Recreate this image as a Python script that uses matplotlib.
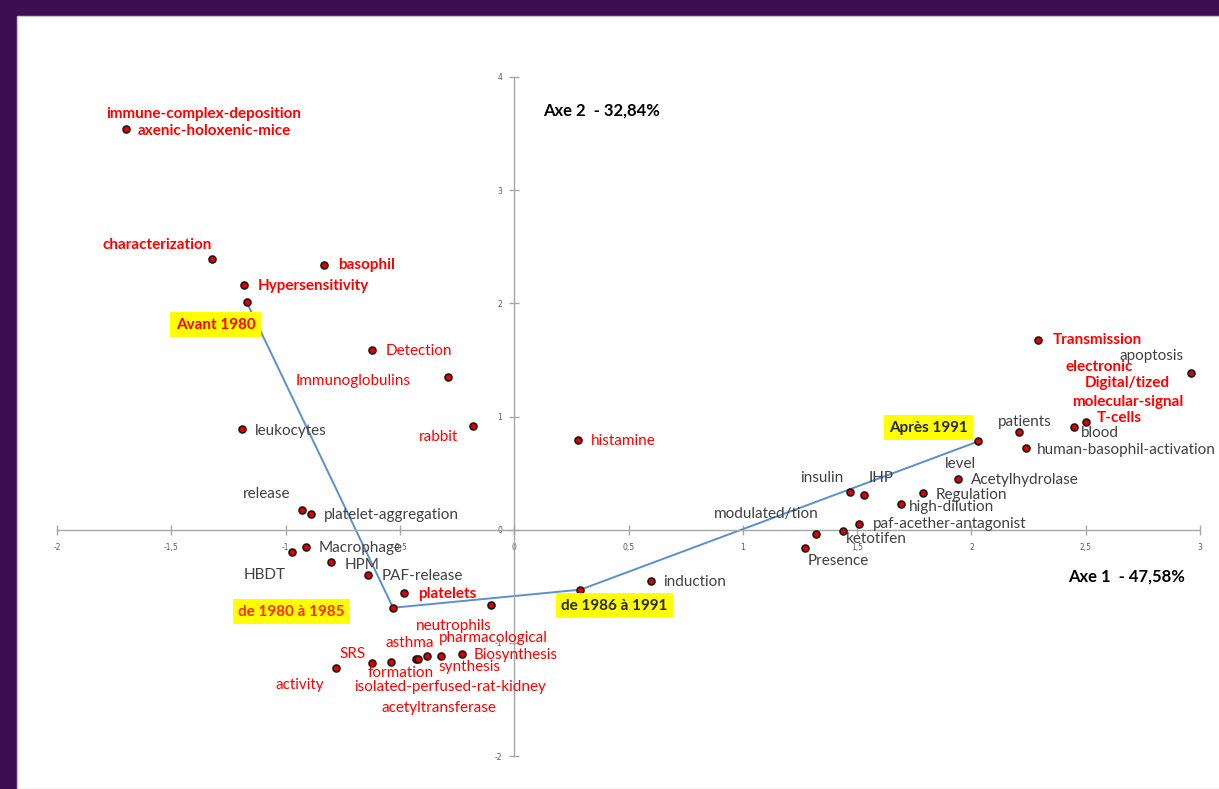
import matplotlib
matplotlib.use("Agg")
import matplotlib.pyplot as plt
from matplotlib.patches import Rectangle

# ---------------- data ----------------
point_x = [-1.70, -1.32, -0.83, -1.18, -0.62, -0.29, -0.18, -1.19, 0.28,
           -0.93, -0.89, -0.91, -0.97, -0.80, -0.64, -0.48, -0.10,
           -0.78, -0.62, -0.54, -0.43, -0.42, -0.38, -0.32, -0.23,
           0.60, 2.29, 2.96, 2.21, 2.45, 2.50, 2.24, 1.94, 1.79, 1.47,
           1.53, 1.69, 1.51, 1.32, 1.44, 1.27]
point_y = [3.54, 2.39, 2.34, 2.16, 1.59, 1.35, 0.92, 0.89, 0.79,
           0.17, 0.14, -0.15, -0.20, -0.29, -0.40, -0.56, -0.67,
           -1.22, -1.18, -1.17, -1.14, -1.14, -1.12, -1.12, -1.10,
           -0.45, 1.68, 1.38, 0.86, 0.91, 0.95, 0.72, 0.45, 0.32, 0.33,
           0.31, 0.23, 0.05, -0.035, -0.01, -0.16]

period_labels = ["Avant 1980", "de 1980 à 1985", "de 1986 à 1991", "Après 1991"]
period_x = [-1.17, -0.53, 0.29, 2.03]
period_y = [2.01, -0.69, -0.53, 0.78]

x_ticks = [-2, -1.5, -1, -0.5, 0, 0.5, 1, 1.5, 2, 2.5, 3]
x_tick_labels = ["-2", "-1,5", "-1", "-0,5", "0", "0,5", "1", "1,5", "2", "2,5", "3"]
y_ticks = [-2, -1, 0, 1, 2, 3, 4]
y_tick_labels = ["-2", "-1", "0", "1", "2", "3", "4"]

axis1_title = "Axe 1  - 47,58%"
axis2_title = "Axe 2  - 32,84%"

# term labels: (text, style)  style: rb = red bold, r = red, g = gray
term_labels = [
    ("immune-complex-deposition", "rb"), ("axenic-holoxenic-mice", "rb"),
    ("characterization", "rb"), ("basophil", "rb"), ("Hypersensitivity", "rb"),
    ("Detection", "r"), ("Immunoglobulins", "r"), ("rabbit", "r"),
    ("leukocytes", "g"), ("histamine", "r"), ("release", "g"),
    ("platelet-aggregation", "g"), ("Macrophage", "g"), ("HBDT", "g"),
    ("HPM", "g"), ("PAF-release", "g"), ("platelets", "rb"),
    ("neutrophils", "r"), ("asthma", "r"), ("pharmacological", "r"),
    ("SRS", "r"), ("Biosynthesis", "r"), ("synthesis", "r"),
    ("formation", "r"), ("activity", "r"), ("isolated-perfused-rat-kidney", "r"),
    ("acetyltransferase", "r"), ("induction", "g"), ("modulated/tion", "g"),
    ("Presence", "g"), ("ketotifen", "g"), ("paf-acether-antagonist", "g"),
    ("insulin", "g"), ("IHP", "g"), ("high-dilution", "g"), ("Regulation", "g"),
    ("level", "g"), ("Acetylhydrolase", "g"), ("patients", "g"), ("blood", "g"),
    ("human-basophil-activation", "g"), ("Transmission", "rb"),
    ("apoptosis", "g"), ("electronic", "rb"), ("Digital/tized", "rb"),
    ("molecular-signal", "rb"), ("T-cells", "rb"),
]

# ---------------- layout (label anchor positions, left/center) ----------------
label_pos = [
    (-1.786, 3.675), (-1.646, 3.525), (-1.803, 2.518), (-0.769, 2.341),
    (-1.122, 2.155), (-0.563, 1.581), (-0.956, 1.316), (-0.419, 0.822),
    (-1.135, 0.875), (0.336, 0.786), (-1.188, 0.318), (-0.834, 0.133),
    (-0.856, -0.159), (-1.183, -0.398), (-0.742, -0.309), (-0.581, -0.406),
    (-0.419, -0.565), (-0.432, -0.848), (-0.563, -0.998), (-0.328, -0.954),
    (-0.764, -1.095), (-0.179, -1.104), (-0.332, -1.210), (-0.642, -1.263),
    (-1.044, -1.369), (-0.699, -1.387), (-0.581, -1.572), (0.651, -0.459),
    (0.873, 0.141), (1.284, -0.274), (1.450, -0.080), (1.568, 0.053),
    (1.253, 0.459), (1.550, 0.459), (1.725, 0.203), (1.843, 0.309),
    (1.886, 0.583), (2.000, 0.442), (2.118, 0.954), (2.480, 0.857),
    (2.288, 0.707), (2.354, 1.678), (2.646, 1.537), (2.410, 1.440),
    (2.498, 1.299), (2.441, 1.131), (2.550, 0.989),
]
period_label_pos = [(-1.306, 1.811), (-0.974, -0.724), (0.437, -0.671), (1.812, 0.901)]
period_label_color = ["#ff0000", "#ff2a00", "#262626", "#262626"]

FONT = ["Lato", "DejaVu Sans"]
RED = "#ff0000"
GRAY = "#404040"
FS = 11

fig = plt.figure(figsize=(12.19, 7.89), dpi=100)
fig.patch.set_facecolor("#3b0f52")
fig.patches.append(Rectangle((17 / 1219, 0), 1, 1 - 16 / 789, transform=fig.transFigure,
                             facecolor="white", edgecolor="#c8c8c8", linewidth=1.0,
                             zorder=-10))

ax = fig.add_axes([57 / 1219, 1 - 756 / 789, (1200 - 57) / 1219, (756 - 77) / 789])
ax.set_zorder(5)
ax.set_facecolor("none")
ax.set_xlim(-2, 3)
ax.set_ylim(-2, 4)

for side in ["top", "right"]:
    ax.spines[side].set_visible(False)
ax.spines["left"].set_position(("data", 0))
ax.spines["bottom"].set_position(("data", 0))
for side in ["left", "bottom"]:
    ax.spines[side].set_color("#a6a6a6")
    ax.spines[side].set_linewidth(1.0)

ax.set_xticks(x_ticks)
ax.set_xticklabels(x_tick_labels)
ax.set_yticks(y_ticks)
ax.set_yticklabels(y_tick_labels)
ax.tick_params(axis="both", direction="inout", length=7, width=1, color="#a6a6a6",
               labelsize=5.5, labelcolor="#595959")
ax.tick_params(axis="x", pad=6)
ax.tick_params(axis="y", pad=5)

# connecting line of the periods
ax.plot(period_x, period_y, color="#5b8fd0", linewidth=1.4, zorder=2)

# points
ax.plot(point_x + period_x, point_y + period_y, linestyle="none", marker="o",
        markersize=5, markerfacecolor="#e00000", markeredgecolor="#1a1a1a",
        markeredgewidth=1.2, zorder=3)

# term labels
for (text, style), (lx, ly) in zip(term_labels, label_pos):
    color = RED if style.startswith("r") else GRAY
    weight = "bold" if style == "rb" else "normal"
    ax.text(lx, ly, text, color=color, fontweight=weight, fontsize=FS,
            family=FONT, ha="left", va="center", zorder=4)

# period labels in yellow boxes
for text, (lx, ly), c in zip(period_labels, period_label_pos, period_label_color):
    ax.text(lx, ly, text, color=c, fontweight="bold", fontsize=FS, family=FONT,
            ha="center", va="center", zorder=4,
            bbox=dict(boxstyle="square,pad=0.35", facecolor="#ffff00", edgecolor="none"))

# axis titles
ax.text(0.127, 3.701, axis2_title, color="black", fontweight="bold", fontsize=12,
        family=FONT, ha="left", va="center")
ax.text(2.424, -0.415, axis1_title, color="black", fontweight="bold", fontsize=12,
        family=FONT, ha="left", va="center")

fig.savefig("out.png", dpi=100, facecolor=fig.get_facecolor())
